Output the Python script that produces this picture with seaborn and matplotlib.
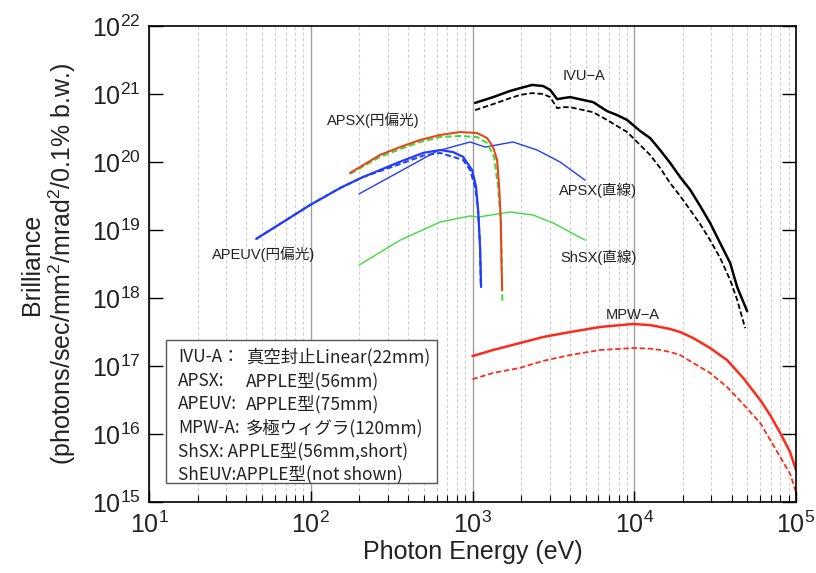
import numpy as np
import pandas as pd
import matplotlib
matplotlib.use('Agg')
import matplotlib.pyplot as plt
from matplotlib.ticker import LogLocator, NullLocator, NullFormatter
from matplotlib.patches import Rectangle
import seaborn as sns

sns.set_theme(style='ticks')
plt.rcParams['font.family'] = ['Liberation Sans', 'Noto Sans CJK JP', 'DejaVu Sans']
plt.rcParams['mathtext.fontset'] = 'custom'
plt.rcParams['mathtext.rm'] = 'Liberation Sans'
plt.rcParams['mathtext.it'] = 'Liberation Sans:italic'

# 데이터 (eV, brilliance) - 그림에서 읽은 값
apeuv_e = [46, 99, 152, 210, 342, 495, 631, 759, 875, 995, 1052, 1083, 1114, 1130]
apeuv_b = [7.4e18, 2.33e19, 4.15e19, 6.0e19, 9.7e19, 1.36e20, 1.5e20, 1.40e20, 1.19e20, 7.6e19, 4.3e19, 1.97e19, 5.6e18, 1.45e18]
apeuv_e2 = [46, 99, 152, 210, 342, 495, 631, 875, 966, 1038, 1083, 1114, 1124]
apeuv_b2 = [7.4e18, 2.33e19, 4.15e19, 6.0e19, 9.0e19, 1.24e20, 1.36e20, 1.07e20, 7.6e19, 4.3e19, 1.97e19, 5.6e18, 1.55e18]

apsx_c_e = [175, 268, 357, 474, 631, 838, 1067, 1231, 1340, 1419, 1462, 1495, 1510, 1524]
apsx_c_b = [6.9e19, 1.27e20, 1.66e20, 2.11e20, 2.5e20, 2.76e20, 2.67e20, 2.25e20, 1.66e20, 1.07e20, 4.3e19, 1.40e19, 3.6e18, 1.31e18]
apsx_c_e2 = [175, 268, 357, 474, 631, 838, 1067, 1231, 1361, 1439, 1495, 1515, 1530]
apsx_c_b2 = [6.7e19, 1.19e20, 1.55e20, 1.97e20, 2.33e20, 2.41e20, 2.33e20, 1.90e20, 1.19e20, 4.3e19, 1.40e19, 3.6e18, 8.4e17]

apsx_l_e = [199, 604, 966, 1197, 1782, 2510, 3480, 4968]
apsx_l_b = [3.4e19, 1.45e20, 1.97e20, 1.66e20, 1.97e20, 1.5e20, 1.0e20, 5.4e19]

shsx_e = [199, 357, 631, 966, 1083, 1709, 2371, 3150, 4968]
shsx_b = [3.05e18, 7.1e18, 1.31e19, 1.61e19, 1.55e19, 1.84e19, 1.66e19, 1.27e19, 7.1e18]

ivu_e = [1038, 1341, 1709, 1969, 2337, 2733, 3020, 3336, 3633, 4015, 5570, 6796, 7840, 9036,
         10870, 12530, 14450, 16660, 19230, 22170, 25570, 29430, 33990, 39170, 43270, 49900]
ivu_b = [7.4e20, 9.0e20, 1.11e21, 1.22e21, 1.36e21, 1.31e21, 1.15e21, 8.4e20, 8.7e20, 9.0e20,
         7.6e20, 5.6e20, 4.9e20, 4.15e20, 2.86e20, 2.25e20, 1.50e20, 9.7e19, 6.0e19, 3.9e19,
         2.25e19, 1.27e19, 6.4e18, 3.27e18, 1.45e18, 6.4e17]
ivu_e2 = [1038, 1341, 1709, 1969, 2337, 2733, 3020, 3336, 3633, 4015, 5570, 6796, 7840, 9036,
          10870, 12530, 14450, 16660, 19230, 22170, 25570, 29430, 33990, 39170, 43270, 48500]
ivu_b2 = [5.8e20, 7.1e20, 8.7e20, 9.7e20, 1.03e21, 1.0e21, 9.0e20, 6.2e20, 6.4e20, 6.4e20,
          5.4e20, 4.15e20, 3.38e20, 2.76e20, 1.78e20, 1.27e20, 8.2e19, 4.9e19, 3.16e19, 1.97e19,
          1.22e19, 7.1e18, 3.87e18, 1.84e18, 9.4e17, 3.6e17]

mpw_e = [1000, 1341, 1969, 2733, 4015, 6152, 9840, 12530, 14450, 16660, 19230, 23120, 29430,
         37500, 47100, 52100, 60100, 69200, 79800, 92000, 100000]
mpw_b = [1.40e17, 1.72e17, 2.18e17, 2.67e17, 3.16e17, 3.75e17, 4.15e17, 4.0e17, 3.75e17,
         3.5e17, 3.16e17, 2.58e17, 1.84e17, 1.22e17, 6.7e16, 4.9e16, 3.16e16, 1.9e16,
         1.04e16, 5.4e15, 2.96e15]
mpw_b2 = [6.4e16, 7.9e16, 9.4e16, 1.19e17, 1.45e17, 1.72e17, 1.84e17, 1.8e17, 1.72e17,
          1.61e17, 1.45e17, 1.11e17, 7.9e16, 4.9e16, 2.76e16, 2.11e16, 1.45e16, 8.2e15,
          4.6e15, 2.58e15, 1.40e15]

# 라벨
labels = ['IVU\u2212A', 'APSX(円偏光)', 'APSX(直線)', 'ShSX(直線)', 'APEUV(円偏光)', 'MPW\u2212A']
label_e = [4900, 245, 5980, 5980, 51, 9840]
label_b = [1.84e21, 4.15e20, 3.9e19, 4.0e18, 4.4e18, 5.6e17]

legend_names = ['IVU-A：', 'APSX:', 'APEUV:', 'MPW-A:']
legend_desc = ['真空封止Linear(22mm)', 'APPLE型(56mm)', 'APPLE型(75mm)', '多極ウィグラ(120mm)']
legend_extra = ['ShSX: APPLE型(56mm,short)', 'ShEUV:APPLE型(not shown)']

BLUE = '#1f3cff'
GREEN = '#3ddc3d'
RED = '#ff2a1a'
ORANGE = '#e8441e'

fig = plt.figure(figsize=(8.16, 5.73), dpi=100)
ax = fig.add_axes([0.1826, 0.1239, 0.7929, 0.8307])

def line(x, y, color, lw, ls='-', z=2):
    sns.lineplot(x=x, y=y, ax=ax, color=color, linewidth=lw, linestyle=ls,
                 estimator=None, sort=False, zorder=z)

line(shsx_e, shsx_b, GREEN, 1.0)
line(apsx_l_e, apsx_l_b, BLUE, 1.0)
line(apeuv_e2, apeuv_b2, BLUE, 1.4, (0, (3, 1.5)))
line(apeuv_e, apeuv_b, BLUE, 1.6)
line(apsx_c_e2, apsx_c_b2, GREEN, 1.5, (0, (3, 1.5)))
line(apsx_c_e, apsx_c_b, ORANGE, 1.5, z=3)
line(ivu_e2, ivu_b2, 'black', 1.3, (0, (3, 1.5)))
line(ivu_e, ivu_b, 'black', 1.8)
line(mpw_e, mpw_b2, RED, 1.3, (0, (3, 1.5)))
line(mpw_e, mpw_b, RED, 1.8)

ax.set_xscale('log')
ax.set_yscale('log')
ax.set_xlim(10, 1e5)
ax.set_ylim(1e15, 1e22)
ax.xaxis.set_major_locator(LogLocator(base=10, numticks=10))
ax.xaxis.set_minor_locator(LogLocator(base=10, subs=np.arange(2, 10), numticks=20))
ax.xaxis.set_minor_formatter(NullFormatter())
ax.yaxis.set_major_locator(LogLocator(base=10, numticks=10))
ax.yaxis.set_minor_locator(NullLocator())

ax.grid(True, axis='x', which='major', color='#a0a0a0', linewidth=1.0, linestyle='-')
ax.grid(True, axis='x', which='minor', color='#d0d0d0', linewidth=0.8, linestyle=(0, (3, 2)))
ax.grid(False, axis='y')
ax.set_axisbelow(True)

ax.tick_params(axis='both', which='both', direction='in', colors='black', labelcolor='#222222')
ax.tick_params(axis='x', which='major', length=8, width=1.0, labelsize=18, pad=7, top=False)
ax.tick_params(axis='x', which='minor', length=5, width=0.8, top=False)
ax.tick_params(axis='y', which='major', length=10, width=1.0, labelsize=18, pad=6, right=True)
for s in ax.spines.values():
    s.set_color('black')
    s.set_linewidth(1.2)

ax.set_xlabel('Photon Energy (eV)', fontsize=18, labelpad=1, color='#222222')
ax.set_ylabel('Brilliance\n(photons/sec/mm$^2$/mrad$^2$/0.1% b.w.)', fontsize=18,
              labelpad=10, color='#222222', linespacing=1.1)

for t, xe, yb in zip(labels, label_e, label_b):
    ax.text(xe, yb, t, fontsize=10.5, ha='center', va='center', color='#222222')

# 범례 박스
ax.add_patch(Rectangle((0.026, 0.040), 0.419, 0.300, transform=ax.transAxes,
                       facecolor='white', edgecolor='#555555', linewidth=1.0, zorder=5))
rows = [0.305, 0.254, 0.206, 0.155, 0.107, 0.059]
for i in range(4):
    ax.text(0.045, rows[i], legend_names[i], transform=ax.transAxes, fontsize=12.5,
            family=['Noto Sans CJK JP'], va='center', ha='left', zorder=6, color='#222222')
    ax.text(0.150, rows[i], legend_desc[i], transform=ax.transAxes, fontsize=12.5,
            family=['Noto Sans CJK JP'], va='center', ha='left', zorder=6, color='#222222')
for i, t in enumerate(legend_extra):
    ax.text(0.045, rows[4 + i], t, transform=ax.transAxes, fontsize=12.5,
            family=['Noto Sans CJK JP'], va='center', ha='left', zorder=6, color='#222222')

fig.savefig('out.png', dpi=100)
